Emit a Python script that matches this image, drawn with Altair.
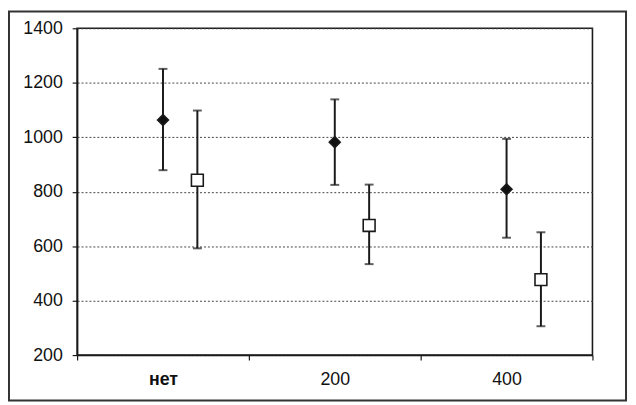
import altair as alt
import pandas as pd

categories = ["нет", "200", "400"]
series = ["A", "B"]
mean_a = [1063, 982, 809]
low_a = [879, 825, 631]
high_a = [1251, 1139, 994]
mean_b = [842, 676, 477]
low_b = [592, 534, 306]
high_b = [1098, 826, 651]
y_ticks = [200, 400, 600, 800, 1000, 1200, 1400]

rows = []
for i, c in enumerate(categories):
    rows.append(dict(cat=c, s="A", mean=mean_a[i], lo=low_a[i], hi=high_a[i]))
    rows.append(dict(cat=c, s="B", mean=mean_b[i], lo=low_b[i], hi=high_b[i]))
df = pd.DataFrame(rows)

ink = "#1a1a1a"
yscale = alt.Scale(domain=[200, 1400], nice=False, zero=False)

x = alt.X(
    "cat:N",
    sort=categories,
    title=None,
    scale=alt.Scale(paddingInner=0, paddingOuter=0),
    axis=alt.Axis(labelAngle=0, tickBand="extent", tickSize=5, labelPadding=11,
                  grid=False, domainWidth=1.6, tickWidth=1.2,
                  labelFontWeight={"condition": {"test": "datum.value == 'нет'", "value": "bold"},
                                   "value": "normal"}),
)
xo = alt.XOffset(
    "s:N",
    scale=alt.Scale(domain=["p1", "p2", "A", "B", "p5"], paddingInner=0, paddingOuter=0),
)

base = alt.Chart(df).encode(x=x, xOffset=xo)

rules = base.mark_rule(color=ink, strokeWidth=2).encode(
    y=alt.Y("lo:Q", scale=yscale, title=None,
            axis=alt.Axis(values=y_ticks, format="d", tickSize=5, labelPadding=10, grid=True,
                          gridDash=[2, 2], gridColor="#444444", gridWidth=1,
                          domainWidth=1.6, tickWidth=1.2)),
    y2="hi:Q",
)
cap_lo = base.mark_tick(color=ink, orient="horizontal", size=9, thickness=2).encode(
    y=alt.Y("lo:Q", scale=yscale, title=None)
)
cap_hi = base.mark_tick(color=ink, orient="horizontal", size=9, thickness=2).encode(
    y=alt.Y("hi:Q", scale=yscale, title=None)
)
pts = base.mark_point(filled=False, opacity=1, stroke=ink, strokeWidth=1.6, fillOpacity=1).encode(
    y=alt.Y("mean:Q", scale=yscale, title=None),
    shape=alt.Shape("s:N", scale=alt.Scale(domain=series, range=["diamond", "square"]), legend=None),
    fill=alt.Fill("s:N", scale=alt.Scale(domain=series, range=["#111111", "#ffffff"]), legend=None),
    size=alt.Size("s:N", scale=alt.Scale(domain=series, range=[121, 144]), legend=None),
)

border = alt.Chart(pd.DataFrame({"k": [0]})).mark_rect(
    fillOpacity=0, stroke="#333333", strokeWidth=2
).encode(x=alt.value(-69), x2=alt.value(556), y=alt.value(-17), y2=alt.value(377))

chart = alt.layer(rules, cap_lo, cap_hi, pts, border).properties(
    width=522,
    height=331,
    autosize=alt.AutoSizeParams(type="none"),
    padding={"left": 70, "top": 18, "right": 36, "bottom": 48},
).configure_view(stroke=ink, strokeWidth=1.6).configure_axis(
    domainColor=ink, tickColor=ink, labelFont="Liberation Sans",
    labelFontSize=18, labelColor="#111111",
)

chart.save("out.html", embed_options={"renderer": "svg", "actions": False})
